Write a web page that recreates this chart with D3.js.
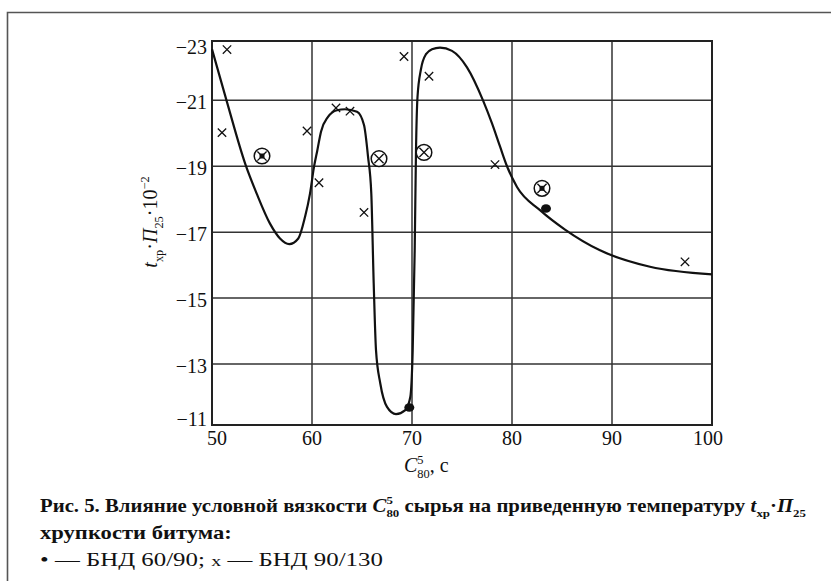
<!DOCTYPE html>
<html>
<head>
<meta charset="utf-8">
<script src="https://cdn.jsdelivr.net/npm/d3@7/dist/d3.min.js"></script>
<style>
  body { margin: 0; background: #fff; }
  svg { display: block; }
  text { font-family: "Liberation Serif", "Times New Roman", serif; fill: #111; }
</style>
</head>
<body>
<svg id="chart" width="831" height="581"></svg>
<script>
// tick labels
const xTicks = [50, 60, 70, 80, 90, 100];
const yTicks = [-23, -21, -19, -17, -15, -13, -11];

// smooth curve
const curveX = [50, 51.45, 53.35, 54.47, 55.8, 56.8, 57.73, 58.63, 59.3, 59.8, 60.2, 60.53, 60.9, 61.6, 62.5, 63.3,
  64.5, 65.2, 65.6, 65.93, 66.17, 66.4, 66.83, 67.5, 68.4, 69.33, 69.83, 70.07, 70.27, 70.4, 70.55, 70.9,
  71.4, 72.0, 72.8, 74.0, 75.5, 77.1, 78.0, 78.8, 79.5, 80.5, 82.8, 85.3, 88.8, 93.8, 100];
const curveY = [-22.55, -21.0, -19.05, -18.17, -17.26, -16.81, -16.64, -16.81, -17.46, -18.17, -18.98, -19.48, -20.05, -20.5, -20.7, -20.73,
  -20.65, -20.25, -19.3, -18.17, -15.45, -13.42, -12.41, -11.7, -11.48, -11.6, -12.0, -13.42, -16.45, -19.48, -21.1, -21.95,
  -22.4, -22.55, -22.6, -22.5, -22.0, -21.0, -20.3, -19.6, -19.0, -18.37, -17.67, -17.08, -16.45, -15.95, -15.72];

// БНД 90/130 (x)
const crossX = [51.5, 51.0, 59.5, 62.4, 63.8, 60.7, 65.2, 69.2, 71.7, 78.3, 97.3];
const crossY = [-22.54, -20.02, -20.07, -20.77, -20.67, -18.5, -17.6, -22.33, -21.73, -19.05, -16.1];

// БНД 60/90 (dot)
const dotX = [83.4, 69.73];
const dotY = [-17.72, -11.68];

// circled crosses, with and without centre dot
const ringDotX = [55.0, 83.0];
const ringDotY = [-19.31, -18.33];
const ringX = [66.7, 71.2];
const ringY = [-19.23, -19.42];

const svg = d3.select("#chart");
const x = d3.scaleLinear().domain([50, 100]).range([212, 712]);
const y = d3.scaleLinear().domain([-22.8, -11.15]).range([41, 425]).clamp(true);

// outer frame (only top and left visible)
svg.append("path")
  .attr("d", "M7.5,581 V12.5 H831")
  .attr("fill", "none").attr("stroke", "#555").attr("stroke-width", 1.6);

// grid
const grid = svg.append("g").attr("stroke", "#333").attr("stroke-width", 1.5);
grid.selectAll(".gx").data(xTicks).join("line")
  .attr("x1", d => x(d)).attr("x2", d => x(d))
  .attr("y1", y.range()[0]).attr("y2", y.range()[1]);
grid.selectAll(".gy").data(yTicks).join("line")
  .attr("x1", x.range()[0]).attr("x2", x.range()[1])
  .attr("y1", d => y(d)).attr("y2", d => y(d));
svg.append("rect")
  .attr("x", 212).attr("y", 41).attr("width", 500).attr("height", 384)
  .attr("fill", "none").attr("stroke", "#222").attr("stroke-width", 2);

// tick labels
svg.selectAll(".xl").data(xTicks).join("text")
  .attr("x", (d, i) => x(d) + (i === 0 ? 5 : i === xTicks.length - 1 ? -4 : 0))
  .attr("y", 445).attr("text-anchor", "middle").attr("font-size", 20)
  .text(d => d);
svg.selectAll(".yl").data(yTicks).join("text")
  .attr("x", 207).attr("text-anchor", "end").attr("font-size", 20)
  .attr("y", (d, i) => y(d) + (i === 0 ? 13 : i === yTicks.length - 1 ? 1 : 9))
  .text(d => "\u2212" + Math.abs(d));

// curve
const pts = curveX.map((v, i) => [v, curveY[i]]);
svg.append("path")
  .attr("d", d3.line().x(d => x(d[0])).y(d => y(d[1])).curve(d3.curveMonotoneX)(pts))
  .attr("fill", "none").attr("stroke", "#111").attr("stroke-width", 2.2);

// markers
function crossAt(g, cx, cy, s) {
  g.append("path")
    .attr("d", `M${cx - s},${cy - s}L${cx + s},${cy + s}M${cx - s},${cy + s}L${cx + s},${cy - s}`)
    .attr("stroke", "#111").attr("stroke-width", 1.3).attr("fill", "none");
}
const marks = svg.append("g");
crossX.forEach((v, i) => crossAt(marks, x(v), y(crossY[i]), 4.2));
dotX.forEach((v, i) => {
  marks.append("ellipse").attr("cx", x(v)).attr("cy", y(dotY[i])).attr("rx", 5).attr("ry", 4.3).attr("fill", "#111");
});
function ring(v, w, withDot) {
  const cx = x(v), cy = y(w);
  marks.append("circle").attr("cx", cx).attr("cy", cy).attr("r", 7.8)
    .attr("fill", "#fff").attr("stroke", "#111").attr("stroke-width", 1.5);
  crossAt(marks, cx, cy, 4.6);
  if (withDot) marks.append("rect").attr("x", cx - 2.5).attr("y", cy - 2.5).attr("width", 5).attr("height", 5).attr("fill", "#111");
}
ringDotX.forEach((v, i) => ring(v, ringDotY[i], true));
ringX.forEach((v, i) => ring(v, ringY[i], false));

// rich text helper: parts placed one after another, measured
function rich(g, parts, x0, y0, size, weight) {
  let cx = x0, stackStart = null, stackW = 0;
  parts.forEach(p => {
    const fs = p.s ? size * (p.s === "small" ? 0.8 : 0.62) : size;
    const dy = p.s === "sub" ? size * 0.28 : p.s === "sup" ? -size * 0.42 : 0;
    let px = cx;
    if (p.stack) px = stackStart;
    const t = g.append("text").attr("x", px).attr("y", y0 + dy)
      .attr("font-size", fs).attr("font-weight", weight || "normal")
      .attr("font-style", p.i ? "italic" : "normal")
      .attr("xml:space", "preserve").text(p.t);
    const w = t.node().getComputedTextLength();
    if (p.stack) {
      cx = stackStart + Math.max(stackW, w);
    } else {
      stackStart = px; stackW = w;
      cx = px + w;
    }
  });
  return cx - x0;
}

// x title
rich(svg.append("g"), [
  { t: "C", i: true }, { t: "80", s: "sub" }, { t: "5", s: "sup", stack: true }, { t: ", с" }
], 404, 472, 20);

// y title, rotated
const yt = svg.append("g").attr("transform", "translate(157,222) rotate(-90)");
const ytw = rich(yt, [
  { t: "t", i: true }, { t: "хр", s: "sub" }, { t: "\u00b7" }, { t: "П", i: true }, { t: "25", s: "sub" },
  { t: "\u00b7" }, { t: "10" }, { t: "\u22122", s: "sup" }
], 0, 0, 20);
yt.selectAll("text").attr("x", function() { return +d3.select(this).attr("x") - ytw / 2; });

// caption, each line squeezed to the width it has in the figure
function fitLine(parts, x0, y0, size, weight, width) {
  const g = svg.append("g");
  const inner = g.append("g");
  const w = rich(inner, parts, 0, 0, size, weight);
  g.attr("transform", `translate(${x0},${y0}) scale(${width / w},1)`);
}
fitLine([
  { t: "Рис. 5. Влияние условной вязкости " }, { t: "C", i: true }, { t: "80", s: "sub" }, { t: "5", s: "sup", stack: true },
  { t: " сырья на приведенную температуру " }, { t: "t", i: true }, { t: "хр", s: "sub" }, { t: "\u00b7" },
  { t: "П", i: true }, { t: "25", s: "sub" }
], 40, 512, 18, "bold", 766);
fitLine([{ t: "хрупкости битума:" }], 40, 539, 18, "bold", 192);
fitLine([{ t: "\u2022" }, { t: " — БНД 60/90; " }, { t: "x", s: "small" }, { t: " — БНД 90/130" }],
  40, 566, 18, "normal", 343);
</script>
</body>
</html>
